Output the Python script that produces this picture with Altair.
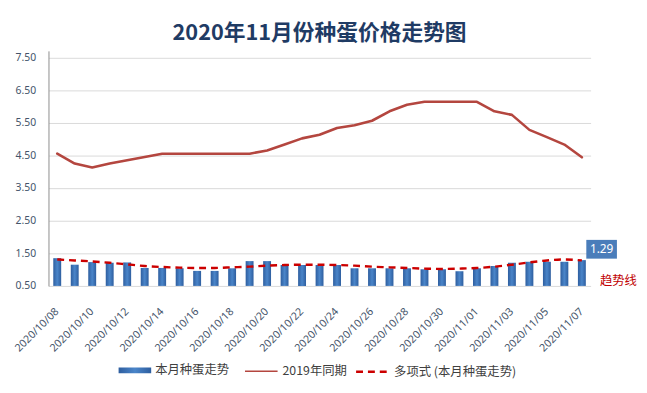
import altair as alt
import pandas as pd

dates = ["2020/10/08", "2020/10/09", "2020/10/10", "2020/10/11", "2020/10/12",
         "2020/10/13", "2020/10/14", "2020/10/15", "2020/10/16", "2020/10/17",
         "2020/10/18", "2020/10/19", "2020/10/20", "2020/10/21", "2020/10/22",
         "2020/10/23", "2020/10/24", "2020/10/25", "2020/10/26", "2020/10/27",
         "2020/10/28", "2020/10/29", "2020/10/30", "2020/10/31", "2020/11/01",
         "2020/11/02", "2020/11/03", "2020/11/04", "2020/11/05", "2020/11/06",
         "2020/11/07"]
bars = [1.35, 1.15, 1.23, 1.21, 1.22, 1.05, 1.05, 1.04, 0.96, 0.96,
        1.04, 1.26, 1.26, 1.14, 1.14, 1.14, 1.14, 1.04, 1.04, 1.04,
        1.04, 1.01, 1.01, 0.95, 1.04, 1.11, 1.21, 1.24, 1.24, 1.24, 1.29]
line2019 = [4.55, 4.25, 4.13, 4.25, 4.35, 4.45, 4.55, 4.55, 4.55, 4.55,
            4.55, 4.55, 4.65, 4.83, 5.02, 5.13, 5.34, 5.42, 5.56, 5.85,
            6.05, 6.14, 6.14, 6.14, 6.14, 5.85, 5.74, 5.28, 5.06, 4.83, 4.44]
trend = [1.31, 1.28, 1.25, 1.21, 1.16, 1.11, 1.08, 1.06, 1.05, 1.05,
         1.07, 1.09, 1.12, 1.14, 1.15, 1.15, 1.14, 1.12, 1.09, 1.07,
         1.05, 1.03, 1.02, 1.03, 1.05, 1.09, 1.15, 1.22, 1.28, 1.31, 1.28]
x_ticks = dates[::2]
y_ticks = [0.5, 1.5, 2.5, 3.5, 4.5, 5.5, 6.5, 7.5]
series = ["本月种蛋走势", "2019年同期", "多项式 (本月种蛋走势)"]

df = pd.DataFrame({"date": dates, "bar": bars, "y2019": line2019, "trend": trend})
last = df.iloc[[-1]]

BLUE = "#3A6DB0"
RED1 = "#B4463F"
RED2 = "#CC0000"

x_axis = alt.Axis(values=x_ticks, labelAngle=-45, labelAlign="right", labelBaseline="middle",
                  labelPadding=24, labelFontSize=10.8, labelFont="Noto Sans", labelColor="#44546A",
                  domain=False, ticks=False, grid=False, title=None, labelOverlap=False)
y_axis = alt.Axis(values=y_ticks, tickCount=8, format=".2f", labelFontSize=10.5, labelFont="Noto Sans",
                  labelColor="#44546A", labelPadding=13, ticks=False, domain=True,
                  domainColor="#8C8C8C", grid=True, gridColor="#D9D9D9", title=None,
                  labelOverlap=False)
x_scale = alt.Scale(domain=dates, paddingInner=0, paddingOuter=0)
y_scale = alt.Scale(domain=[0.5, 7.7], nice=False, zero=False)

X = alt.X("date:N", sort=dates, scale=x_scale, axis=x_axis)


def Y(field):
    return alt.Y(field, scale=y_scale, axis=y_axis)


common_legend = dict(orient="none", legendY=307, direction="horizontal", title=None,
                     labelFont="Noto Sans CJK SC", labelFontSize=12.5, labelColor="#404040",
                     labelOffset=4, symbolSize=1089)

base = alt.Chart(df)

bar_layer = base.mark_bar(
    size=8,
    color=alt.Gradient(gradient="linear", x1=0, x2=1, y1=0, y2=0,
                       stops=[alt.GradientStop(color="#2E5E9F", offset=0),
                              alt.GradientStop(color="#4A85C9", offset=0.5),
                              alt.GradientStop(color="#2E5E9F", offset=1)])
).transform_calculate(
    series="'本月种蛋走势'"
).encode(
    x=X,
    y=Y("bar:Q"),
    y2=alt.datum(0.5),
    opacity=alt.Opacity("series:O", scale=alt.Scale(domain=[series[0]], range=[1]),
                        legend=alt.Legend(legendX=71, symbolType="M-1,-0.18H1V0.18H-1Z",
                                          symbolFillColor=BLUE, symbolStrokeWidth=0,
                                          symbolStrokeColor=BLUE, **common_legend)),
)

line_layer = base.mark_line(strokeWidth=2.6, strokeCap="round", strokeJoin="round").transform_calculate(
    series="'2019年同期'"
).encode(
    x=X,
    y=Y("y2019:Q"),
    color=alt.Color("series:N", scale=alt.Scale(domain=[series[1]], range=[RED1]),
                    legend=alt.Legend(legendX=198, symbolType="stroke", symbolStrokeWidth=1.6,
                                      **common_legend)),
)

trend_layer = base.mark_line(strokeWidth=2.4, color=RED2, interpolate="monotone").transform_calculate(
    series="'多项式 (本月种蛋走势)'"
).encode(
    x=X,
    y=Y("trend:Q"),
    strokeDash=alt.StrokeDash("series:N", scale=alt.Scale(domain=[series[2]], range=[[7, 5]]),
                              legend=alt.Legend(legendX=310, symbolType="stroke",
                                                symbolStrokeColor=RED2, symbolStrokeWidth=2.5,
                                                **common_legend)),
)

box_layer = alt.Chart(last).mark_point(
    shape="M-1,-0.613H1V0.613H-1Z", size=961, filled=True, opacity=1,
    color="#4A7DBA", strokeWidth=0, xOffset=20, yOffset=-11
).encode(
    x=X,
    y=Y("bar:Q"),
)

box_text = alt.Chart(last).mark_text(
    dx=20, dy=-11, color="white", fontSize=12, font="Noto Sans", align="center", baseline="middle"
).encode(
    x=X,
    y=Y("bar:Q"),
    text=alt.Text("bar:Q", format=".2f"),
)

trend_note = alt.Chart(last).mark_text(
    text="趋势线", dx=37, dy=-5, color="#C00000", fontSize=12.5, font="Noto Sans CJK SC",
    align="center", baseline="middle"
).encode(
    x=X,
    y=alt.Y(datum=0.5, type="quantitative", scale=y_scale, axis=y_axis),
)

chart = alt.layer(bar_layer, line_layer, trend_layer, box_layer, box_text, trend_note).resolve_scale(
    color="independent", opacity="independent", strokeDash="independent"
).properties(
    width=549, height=238,
    background="white",
    autosize=alt.AutoSizeParams(type="none"),
    padding={"left": 41, "top": 41, "right": 49, "bottom": 106},
    title=alt.TitleParams(text="2020年11月份种蛋价格走势图", font="Noto Sans CJK SC", fontSize=22,
                          fontWeight="bold", color="#1F3B64", anchor="middle", offset=6),
).configure_view(stroke=None)

chart.save("out.html", embed_options={"renderer": "svg", "actions": False})
